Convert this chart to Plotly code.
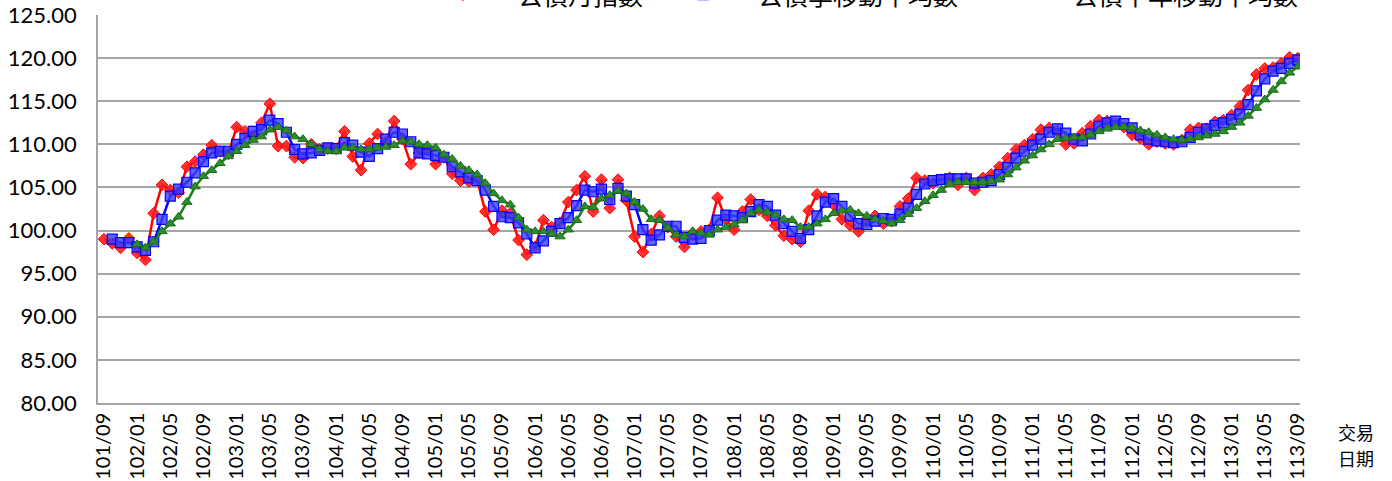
import plotly.graph_objects as go

# ---- data -------------------------------------------------------------
years_months = [f"{101 + (8 + k) // 12}/{(8 + k) % 12 + 1:02d}" for k in range(145)]

tick_labels = ["101/09", "102/01", "102/05", "102/09", "103/01", "103/05", "103/09",
               "104/01", "104/05", "104/09", "105/01", "105/05", "105/09", "106/01",
               "106/05", "106/09", "107/01", "107/05", "107/09", "108/01", "108/05",
               "108/09", "109/01", "109/05", "109/09", "110/01", "110/05", "110/09",
               "111/01", "111/05", "111/09", "112/01", "112/05", "112/09", "113/01",
               "113/05", "113/09"]

monthly_index = [
    99.0, 98.5, 98.0, 99.1, 97.4, 96.6, 102.0, 105.3, 104.7, 104.4,
    107.4, 108.0, 108.8, 109.9, 109.2, 108.9, 112.0, 111.5, 110.9, 112.5,
    114.7, 109.8, 109.8, 108.5, 108.4, 110.0, 109.4, 109.5, 109.5, 111.5,
    108.6, 107.0, 110.1, 111.2, 110.3, 112.7, 110.6, 107.7, 109.0, 109.3,
    107.7, 108.5, 106.6, 105.8, 105.7, 105.9, 102.2, 100.1, 102.3, 102.0,
    98.9, 97.2, 98.1, 101.2, 100.4, 100.9, 103.3, 104.7, 106.3, 102.2,
    105.9, 102.6, 105.9, 103.5, 99.3, 97.5, 99.6, 101.7, 100.4, 99.3,
    98.1, 99.7, 99.9, 100.1, 103.8, 101.3, 100.1, 102.2, 103.6, 102.4,
    101.7, 100.6, 99.4, 99.0, 98.7, 102.3, 104.2, 103.9, 103.0, 101.3,
    100.6, 99.9, 101.0, 101.7, 100.8, 101.1, 102.8, 103.7, 106.1, 105.8,
    105.5, 105.9, 106.1, 105.3, 106.1, 104.7, 106.1, 106.5, 107.4, 108.4,
    109.4, 109.9, 110.6, 111.7, 111.9, 111.5, 110.0, 110.1, 111.3, 112.1,
    112.8, 112.7, 112.4, 112.0, 111.1, 110.7, 110.0, 110.3, 110.1, 110.0,
    110.5, 111.7, 111.9, 111.8, 112.6, 112.8, 113.4, 114.4, 116.3, 118.1,
    118.8, 118.9, 119.4, 120.1, 120.0]

quarter_avg = [
    None, 99.0, 98.6, 98.6, 98.1, 97.7, 98.7, 101.3, 104.0, 104.8,
    105.6, 106.7, 108.0, 109.0, 109.2, 109.2, 110.0, 110.7, 111.5, 111.7,
    112.8, 112.4, 111.4, 109.4, 108.9, 109.0, 109.3, 109.6, 109.5, 110.2,
    109.9, 109.1, 108.6, 109.5, 110.6, 111.4, 111.2, 110.3, 109.0, 108.9,
    108.7, 108.5, 107.4, 106.8, 106.1, 105.8, 104.7, 102.8, 101.6, 101.5,
    100.9, 99.6, 98.0, 98.8, 99.9, 100.8, 101.5, 102.9, 104.7, 104.5,
    104.8, 103.6, 104.9, 104.0, 103.0, 100.1, 98.9, 99.5, 100.5, 100.5,
    99.2, 99.0, 99.1, 100.0, 101.2, 101.8, 101.7, 101.5, 102.2, 103.0,
    102.8, 101.8, 100.8, 99.9, 99.1, 100.1, 101.7, 103.3, 103.7, 102.8,
    101.7, 100.8, 100.7, 101.1, 101.4, 101.3, 101.9, 102.6, 104.2, 105.4,
    105.8, 105.9, 106.0, 106.0, 106.0, 105.5, 105.6, 105.8, 106.5, 107.3,
    108.4, 109.2, 109.9, 110.6, 111.4, 111.8, 111.3, 110.6, 110.4, 111.2,
    112.1, 112.5, 112.7, 112.4, 111.9, 111.1, 110.6, 110.4, 110.3, 110.2,
    110.3, 110.8, 111.4, 111.8, 112.2, 112.5, 112.9, 113.5, 114.6, 116.2,
    117.6, 118.5, 118.8, 119.4, 119.8]

halfyear_avg = [
    None, None, None, None, 98.4, 98.0, 98.7, 99.9, 100.8, 101.6,
    103.3, 105.1, 106.3, 107.0, 107.8, 108.6, 109.2, 109.9, 110.5, 110.9,
    111.7, 112.0, 111.6, 110.9, 110.6, 110.0, 109.4, 109.2, 109.2, 109.6,
    109.6, 109.4, 109.4, 109.6, 109.7, 109.9, 110.4, 110.3, 110.0, 109.9,
    109.6, 108.8, 108.3, 107.5, 107.0, 106.5, 105.5, 104.3, 103.5, 103.0,
    101.5, 100.1, 99.9, 99.9, 99.6, 99.3, 100.1, 101.2, 102.8, 102.7,
    103.7, 104.1, 104.6, 104.3, 103.3, 102.5, 101.3, 101.2, 100.3, 99.5,
    99.3, 99.9, 99.7, 99.5, 100.1, 100.4, 100.7, 101.2, 102.0, 102.4,
    102.1, 101.8, 101.3, 101.2, 100.4, 100.4, 100.8, 101.3, 102.0, 102.3,
    102.4, 102.0, 101.7, 101.3, 101.1, 100.8, 101.2, 101.9, 102.6, 103.4,
    104.1, 104.7, 105.4, 105.6, 105.6, 105.6, 105.6, 105.7, 105.9, 106.5,
    107.3, 108.1, 108.7, 109.4, 110.0, 110.6, 110.7, 110.8, 110.8, 111.1,
    111.5, 111.8, 112.0, 112.0, 111.9, 111.6, 111.4, 111.1, 110.8, 110.6,
    110.5, 110.6, 110.8, 111.0, 111.2, 111.5, 112.0, 112.5, 113.3, 114.2,
    115.2, 116.3, 117.3, 118.3, 119.0]

series_names = ["公債月指數", "公債季移動平均數", "公債半年移動平均數"]
y_ticks = [80, 85, 90, 95, 100, 105, 110, 115, 120, 125]

# ---- figure -----------------------------------------------------------
W, H = 1392, 481
ML, MR, MT, MB = 98, 92, 15, 78
PW, PH = W - ML - MR, H - MT - MB

fig = go.Figure()
fig.add_trace(go.Scatter(
    x=years_months, y=monthly_index, name=series_names[0], mode="lines+markers",
    line=dict(color="#FF0000", width=2.5),
    marker=dict(symbol="diamond", size=9, color="rgba(255,30,30,0.9)",
                line=dict(color="#FF0000", width=1))))
fig.add_trace(go.Scatter(
    x=years_months, y=quarter_avg, name=series_names[1], mode="lines+markers",
    line=dict(color="#0000FF", width=2.5),
    marker=dict(symbol="square", size=10, color="rgba(60,60,255,0.8)",
                line=dict(color="#0000FF", width=1.2))))
fig.add_trace(go.Scatter(
    x=years_months, y=halfyear_avg, name=series_names[2], mode="lines+markers",
    line=dict(color="#1A7F1A", width=2.5),
    marker=dict(symbol="triangle-up", size=9, color="#2E8B2E",
                line=dict(color="#1A6B1A", width=1))))


def px_x(px):
    return (px - ML) / PW


def px_y(py):
    return (H - MB - py) / PH


for txt, ypx in (("交易", 432), ("日期", 458)):
    fig.add_annotation(text=txt, x=px_x(1356), y=px_y(ypx), xref="paper", yref="paper",
                       xanchor="center", yanchor="middle", showarrow=False,
                       font=dict(family="Noto Sans CJK TC", size=18, color="#000"))

fig.update_layout(
    width=W, height=H,
    margin=dict(l=ML, r=MR, t=MT, b=MB, autoexpand=False),
    paper_bgcolor="white", plot_bgcolor="white",
    font=dict(family="Lato, Liberation Sans, sans-serif", color="#000"),
    showlegend=True,
    legend=dict(orientation="h", x=px_x(408), xanchor="left", y=px_y(-5), yanchor="middle",
                itemwidth=100, font=dict(family="Noto Sans CJK TC", size=25, color="#000"),
                bgcolor="rgba(0,0,0,0)", traceorder="normal"),
    xaxis=dict(type="category", range=[-0.72, 144.25], tickmode="array",
               tickvals=tick_labels, ticktext=tick_labels, tickangle=-90,
               showgrid=False, showline=True, linecolor="#A6A6A6", linewidth=1.5,
               ticks="", tickfont=dict(size=20), zeroline=False),
    yaxis=dict(range=[80, 125], tickmode="array", tickvals=y_ticks,
               ticktext=[f"{v:.2f}" for v in y_ticks],
               showgrid=True, gridcolor="#A6A6A6", gridwidth=1.5,
               showline=True, linecolor="#A6A6A6", linewidth=1.5,
               ticks="", ticklabelstandoff=15, ticklabeloverflow="allow",
               tickfont=dict(size=22), zeroline=False),
)

fig.write_html("out.html", config={"displayModeBar": False},
               post_script="document.body.style.margin='0';document.body.style.overflow='hidden';")
